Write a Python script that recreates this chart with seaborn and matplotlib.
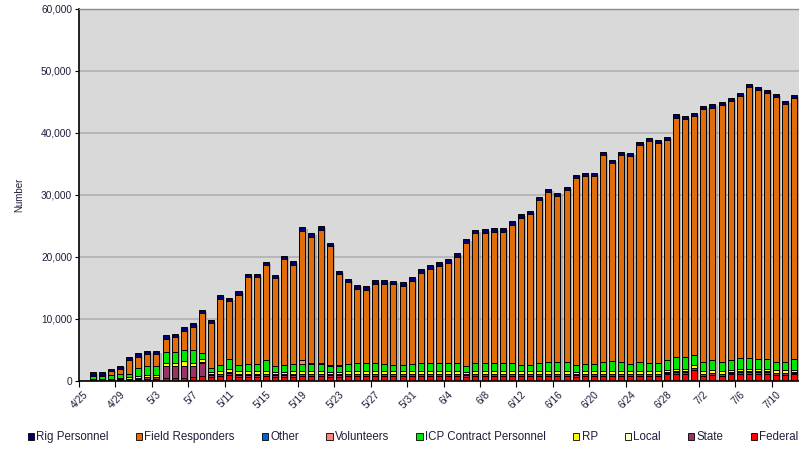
import numpy as np
import pandas as pd
import matplotlib
matplotlib.use("Agg")
import matplotlib.pyplot as plt
import matplotlib.patheffects as pe
from matplotlib.patches import Patch
import seaborn as sns

# Daily categories, 4/25 through 7/12
dates = pd.date_range("2010-04-25", "2010-07-12", freq="D")
day_labels = [f"{d.month}/{d.day}" for d in dates]

federal = ([0]
           + [150, 150, 150, 200, 200]
           + [200, 400, 400, 500, 500, 500, 650, 800, 650, 800]
           + [1000, 700, 700, 700, 800, 650, 700, 700, 750, 750]
           + [750, 700, 700, 800, 800, 800, 800, 800, 750, 750, 750]
           + [750, 750, 750, 750, 750, 700, 750, 750, 800, 800]
           + [750, 750, 750, 750, 750, 750, 750, 700, 750, 750]
           + [800, 800, 800, 750, 800, 800, 800, 1050, 1200, 1200]
           + [1750, 800, 950, 800, 1050, 1200, 1200, 1200, 1200, 950, 950, 1050])

state = ([0]
         + [100, 100, 100, 100, 150]
         + [200, 200, 200, 1900, 1900, 1850, 1700, 2150, 350, 300]
         + [350] + [300] * 9
         + [300] * 11
         + [300] * 30
         + [300] * 12)

local = [0] + [50] * 5 + [50] * 8 + [100] * 65

rp = ([0]
      + [50, 50, 100, 150, 200]
      + [300, 300, 300, 450, 450, 800, 500, 500, 300, 450]
      + [450, 450, 450, 450, 450, 400, 400, 450, 450, 450]
      + [450, 400, 400, 400, 450, 450, 450, 400, 400, 400, 400]
      + [400] * 42)

icp = ([0]
       + [450, 450, 500, 600, 600]
       + [1300, 1400, 1400, 1750, 1800, 1750, 2150, 1050, 700, 1000]
       + [1600, 1100, 1150, 1150, 1750, 1000, 1150, 1200, 1100, 1150]
       + [1150, 1000, 1000, 1100, 1200, 1200, 1200, 1150, 1000, 1000, 1150]
       + [1300, 1300, 1300, 1300, 1300, 1000, 1300, 1350, 1300, 1300]
       + [1300, 1100, 1100, 1300, 1450, 1450, 1450, 1100, 1200, 1200]
       + [1500, 1600, 1450, 1200, 1500, 1350, 1250, 1600, 1800, 1800]
       + [1600, 1400, 1600, 1500, 1500, 1750, 1650, 1550, 1500, 1350, 1350, 1750])

volunteers = [0] * 24 + [700, 100, 100, 50, 50] + [0] * 50

other = [0] * 79

field = ([0]
         + [100, 100, 700, 900, 2200]
         + [1900, 2000, 2000, 2200, 2350, 3150, 3700, 6350, 7250, 10600]
         + [9350, 11300, 14050, 14050, 15250, 14100, 16950, 16000, 20800, 20450]
         + [21550, 19150, 14650, 13200, 12050, 11850, 12850, 12950, 13050, 12750, 13500]
         + [14650, 15250, 15750, 16150, 17150, 19800, 20950, 21000, 21100, 21200]
         + [22350, 23650, 24250, 26350, 27500, 26900, 27800, 30200, 30250, 30350]
         + [33400, 32000, 33450, 33550, 35000, 35750, 35550, 35450, 38700, 38400]
         + [38550, 40800, 40750, 41400, 41850, 42250, 43750, 43350, 42900, 42700, 41600, 42050])

rig = [0] + [600, 600, 400, 500, 500] + [550] * 16 + [600] * 27 + [500] * 30

series_names = ["Rig Personnel", "Field Responders", "Other", "Volunteers",
                "ICP Contract Personnel", "RP", "Local", "State", "Federal"]
series_values = [rig, field, other, volunteers, icp, rp, local, state, federal]
series_colors = ["#000070", "#e36c0a", "#0066cc", "#ff8080",
                 "#00e600", "#ffff00", "#ffffcc", "#993366", "#ff0000"]

day_idx = np.arange(len(dates))
df = pd.concat(
    [pd.DataFrame({"day": day_idx, "series": name, "value": vals})
     for name, vals in zip(series_names, series_values)],
    ignore_index=True,
)
totals = df.groupby("day")["value"].sum().reindex(day_idx).to_numpy()

sns.set_theme(style="white")
plt.rcParams["font.family"] = ["Liberation Sans", "DejaVu Sans"]

text_color = "#1e1e3c"

fig = plt.figure(figsize=(7.99, 4.51), dpi=100)
ax = fig.add_axes([79 / 799, 70 / 451, 720 / 799, 372 / 451])
ax.set_facecolor("#d9d9d9")
ax.set_axisbelow(True)
ax.yaxis.grid(True, color="#b4b4b4", linewidth=1.3)

# soft drop shadow behind each stacked column
ax.bar(day_idx, totals, width=0.66, color="none", edgecolor="none", zorder=1.5,
       path_effects=[pe.SimplePatchShadow(offset=(1.6, -1.4),
                                          shadow_rgbFace="#8a8a8a", alpha=0.55)])

sns.histplot(data=df, x="day", weights="value", hue="series",
             hue_order=series_names, palette=dict(zip(series_names, series_colors)),
             multiple="stack", discrete=True, shrink=0.66, alpha=1,
             edgecolor="black", linewidth=0.7, legend=False, ax=ax, zorder=2)

ax.set_xlim(-0.5, len(dates) - 0.5)
ax.set_ylim(0, 60000)
ax.set_yticks(np.arange(0, 60001, 10000))
ax.yaxis.set_major_formatter(matplotlib.ticker.StrMethodFormatter("{x:,.0f}"))
ax.set_xticks(day_idx[::4])
ax.set_xticklabels(day_labels[::4], rotation=45, ha="right",
                   rotation_mode="anchor", fontsize=7.3, color=text_color)
ax.set_xticks(np.arange(-0.5, len(dates), 4), minor=True)
ax.tick_params(axis="x", which="major", length=0, pad=6)
ax.tick_params(axis="x", which="minor", length=4, width=0.8, color="black",
               direction="out", bottom=True)
ax.tick_params(axis="y", length=3, width=0.8, color="black", direction="out",
               left=True, labelsize=7.3, labelcolor=text_color, pad=2)
ax.set_xlabel("")
ax.set_ylabel("Number", fontsize=7, color=text_color, labelpad=12)

for side in ("left", "bottom"):
    ax.spines[side].set_color("black")
    ax.spines[side].set_linewidth(1.2)
ax.spines["top"].set_color("#8c8c8c")
ax.spines["top"].set_linewidth(1.0)
ax.spines["right"].set_visible(False)

handles = [Patch(facecolor=c, edgecolor="black", linewidth=0.6, label=n)
           for n, c in zip(series_names, series_colors)]
fig.legend(handles=handles, loc="center", bbox_to_anchor=(0.517, 0.03),
           ncol=9, frameon=False, fontsize=8.3, handlelength=0.55,
           handleheight=0.55, handletextpad=0.2, columnspacing=2.35,
           borderaxespad=0, borderpad=0, labelcolor=text_color)

fig.savefig("out.png", dpi=100)
